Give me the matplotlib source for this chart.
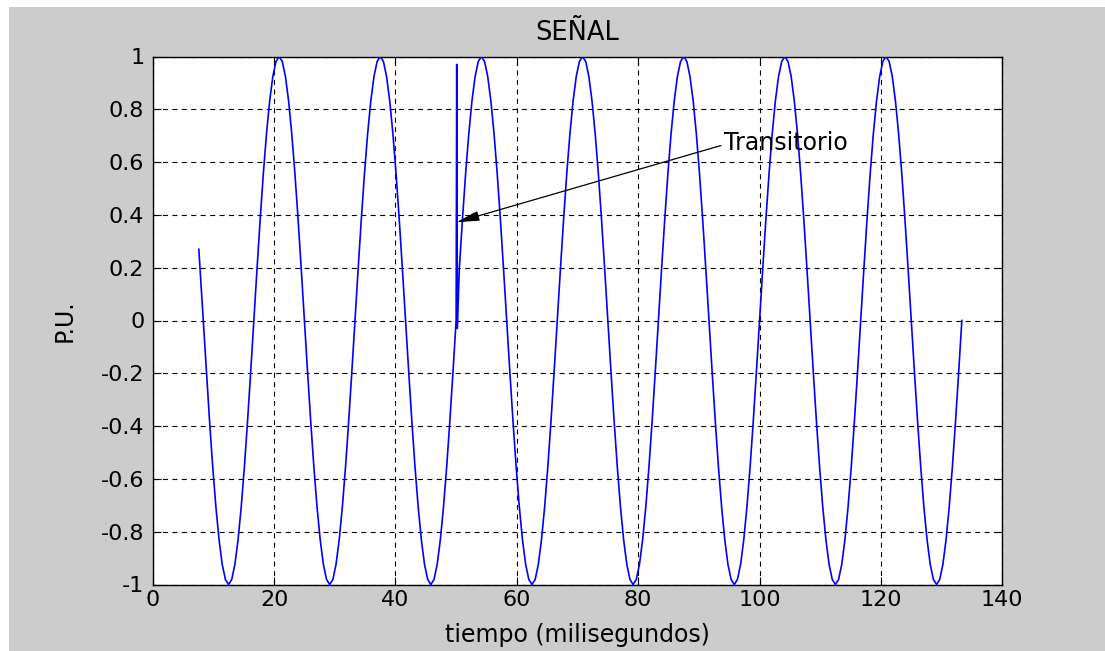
import numpy as np
import matplotlib
matplotlib.use("Agg")
import matplotlib.pyplot as plt
from matplotlib.patches import Rectangle

# ---------------- data ----------------
SAMPLE_MS = 25 / 48          # sampling period of the stored signal (ms)
FIRST_SAMPLE = 16            # index of the first stored sample
start_t = [7.6]              # first visible point (ms)
start_y = [0.27]
signal_y = [
    0.0, -0.195, -0.383, -0.556, -0.707, -0.831, -0.924, -0.981, -1.0, -0.981, -0.924, -0.831, -0.707, -0.556, -0.383, -0.195,
    0.0, 0.195, 0.383, 0.556, 0.707, 0.831, 0.924, 0.981, 1.0, 0.981, 0.924, 0.831, 0.707, 0.556, 0.383, 0.195,
    0.0, -0.195, -0.383, -0.556, -0.707, -0.831, -0.924, -0.981, -1.0, -0.981, -0.924, -0.831, -0.707, -0.556, -0.383, -0.195,
    0.0, 0.195, 0.383, 0.556, 0.707, 0.831, 0.924, 0.981, 1.0, 0.981, 0.924, 0.831, 0.707, 0.556, 0.383, 0.195,
    0.0, -0.195, -0.383, -0.556, -0.707, -0.831, -0.924, -0.981, -1.0, -0.981, -0.924, -0.831, -0.707, -0.556, -0.383, -0.195,
    0.0, 0.195, 0.383, 0.556, 0.707, 0.831, 0.924, 0.981, 1.0, 0.981, 0.924, 0.831, 0.707, 0.556, 0.383, 0.195,
    0.0, -0.195, -0.383, -0.556, -0.707, -0.831, -0.924, -0.981, -1.0, -0.981, -0.924, -0.831, -0.707, -0.556, -0.383, -0.195,
    0.0, 0.195, 0.383, 0.556, 0.707, 0.831, 0.924, 0.981, 1.0, 0.981, 0.924, 0.831, 0.707, 0.556, 0.383, 0.195,
    0.0, -0.195, -0.383, -0.556, -0.707, -0.831, -0.924, -0.981, -1.0, -0.981, -0.924, -0.831, -0.707, -0.556, -0.383, -0.195,
    0.0, 0.195, 0.383, 0.556, 0.707, 0.831, 0.924, 0.981, 1.0, 0.981, 0.924, 0.831, 0.707, 0.556, 0.383, 0.195,
    0.0, -0.195, -0.383, -0.556, -0.707, -0.831, -0.924, -0.981, -1.0, -0.981, -0.924, -0.831, -0.707, -0.556, -0.383, -0.195,
    0.0, 0.195, 0.383, 0.556, 0.707, 0.831, 0.924, 0.981, 1.0, 0.981, 0.924, 0.831, 0.707, 0.556, 0.383, 0.195,
    0.0, -0.195, -0.383, -0.556, -0.707, -0.831, -0.924, -0.981, -1.0, -0.981, -0.924, -0.831, -0.707, -0.556, -0.383, -0.195,
    0.0, 0.195, 0.383, 0.556, 0.707, 0.831, 0.924, 0.981, 1.0, 0.981, 0.924, 0.831, 0.707, 0.556, 0.383, 0.195,
    0.0, -0.195, -0.383, -0.556, -0.707, -0.831, -0.924, -0.981, -1.0, -0.981, -0.924, -0.831, -0.707, -0.556, -0.383, -0.195,
    0.0,
]
spike_t = [50.1, 50.2]       # transient
spike_y = [0.97, -0.03]

x_ticks = [0, 20, 40, 60, 80, 100, 120, 140]
y_ticks = [-1, -0.8, -0.6, -0.4, -0.2, 0, 0.2, 0.4, 0.6, 0.8, 1]
y_tick_labels = ["-1", "-0.8", "-0.6", "-0.4", "-0.2", "0", "0.2", "0.4", "0.6", "0.8", "1"]

title_text = "SEÑAL"
xlabel_text = "tiempo (milisegundos)"
ylabel_text = "P.U."
note_text = "Transitorio"
note_xy = (50.04, 0.372)
note_text_xy = (94.1, 0.6466)

# ---------------- build series ----------------
t_sig = np.arange(FIRST_SAMPLE, FIRST_SAMPLE + len(signal_y)) * SAMPLE_MS
y_sig = np.array(signal_y)
cut = np.searchsorted(t_sig, spike_t[0])
t_all = np.concatenate([start_t, t_sig[:cut], spike_t, t_sig[cut:]])
y_all = np.concatenate([start_y, y_sig[:cut], spike_y, y_sig[cut:]])

# ---------------- figure ----------------
plt.rcParams["font.family"] = ["DejaVu Sans"]
plt.rcParams["axes.unicode_minus"] = False
plt.rcParams["lines.scale_dashes"] = False

W, H = 1105, 651
fig = plt.figure(figsize=(W / 100, H / 100), dpi=100, facecolor="white")
fig.patches.append(Rectangle((9 / W, 0), 1, (H - 7) / H, transform=fig.transFigure,
                             facecolor="#cccccc", edgecolor="none", zorder=-10))

ax_l, ax_r, ax_t, ax_b = 152.7, 1002.3, 56.5, 584.5
ax = fig.add_axes([ax_l / W, (H - ax_b) / H, (ax_r - ax_l) / W, (ax_b - ax_t) / H])
ax.set_facecolor("white")

ax.plot(t_all, y_all, color="#0000ff", lw=1.2, zorder=3)

ax.set_xlim(0, 140)
ax.set_ylim(-1, 1)
ax.set_xticks(x_ticks)
ax.set_xticklabels([str(v) for v in x_ticks])
ax.set_yticks(y_ticks)
ax.set_yticklabels(y_tick_labels)

ax.grid(True, color="black", lw=0.8, linestyle=(0, (3.6, 3.2)), zorder=1)
ax.set_axisbelow(True)
for s in ax.spines.values():
    s.set_linewidth(1.0)
    s.set_color("black")

ax.tick_params(direction="in", top=True, right=True, length=6, width=0.8,
               labelsize=16, colors="black")
ax.tick_params(axis="x", pad=4)
ax.tick_params(axis="y", pad=6)

ax.set_title(title_text, fontsize=18.5, pad=12)
ax.set_xlabel(xlabel_text, fontsize=17)
ax.xaxis.set_label_coords(0.5, -0.072)
ax.set_ylabel(ylabel_text, fontsize=17)
ax.yaxis.set_label_coords(-0.09, 0.5)

ax.annotate(note_text, xy=note_xy, xytext=note_text_xy, textcoords="data",
            ha="left", va="baseline", fontsize=17, zorder=5,
            arrowprops=dict(arrowstyle="-|>,head_length=0.7,head_width=0.15",
                            color="black", lw=0.9, shrinkA=0, shrinkB=0,
                            relpos=(0, 0.42), mutation_scale=20))

fig.savefig("out.png", dpi=100, facecolor=fig.get_facecolor())
